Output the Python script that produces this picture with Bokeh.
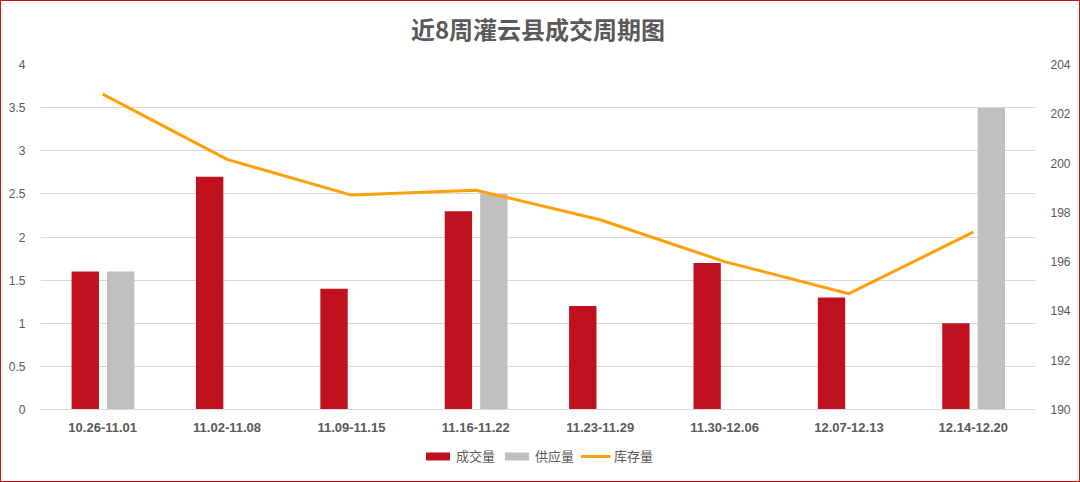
from bokeh.plotting import figure
from bokeh.layouts import column
from bokeh.models import (FactorRange, Range1d, LinearAxis, FixedTicker, CustomJSTickFormatter,
                          Legend, LegendItem, ColumnDataSource, Label)
from bokeh.transform import dodge
from bokeh.embed import file_html
from bokeh.resources import INLINE

weeks = ["10.26-11.01", "11.02-11.08", "11.09-11.15", "11.16-11.22",
         "11.23-11.29", "11.30-12.06", "12.07-12.13", "12.14-12.20"]
deals = [1.6, 2.7, 1.4, 2.3, 1.2, 1.7, 1.3, 1.0]          # 成交量
supply = [1.6, 0, 0, 2.5, 0, 0, 0, 3.5]                   # 供应量
stock = [202.8, 200.15, 198.7, 198.9, 197.7, 196.0, 194.7, 197.2]  # 库存量
left_ticks = [0, 0.5, 1, 1.5, 2, 2.5, 3, 3.5, 4]
right_ticks = [190, 192, 194, 196, 198, 200, 202, 204]
series_names = ["成交量", "供应量", "库存量"]
title_text = "近8周灌云县成交周期图"

src = ColumnDataSource(dict(week=weeks, deals=deals, supply=supply, stock=stock))

TXT = "#595959"
FONT = "Noto Sans CJK SC"
NUMFONT = "Liberation Sans"
RED, GRAY, ORANGE = "#c0111f", "#bfbfbf", "#ffa00a"
W = 1078


def strip(h):
    f = figure(width=W, height=h, x_range=Range1d(0, 1), y_range=Range1d(0, h),
               output_backend="svg", toolbar_location=None,
               min_border=0, min_border_left=0, min_border_right=0,
               min_border_top=0, min_border_bottom=0)
    f.axis.visible = False
    f.grid.visible = False
    f.outline_line_color = None
    f.border_fill_color = "white"
    f.background_fill_color = "white"
    return f


# title strip
tt = strip(48)
tt.add_layout(Label(x=0.5, y=21, text=title_text, text_align="center", text_baseline="middle",
                    text_font=FONT, text_font_size="24px", text_font_style="bold",
                    text_color=TXT))

# main chart
p = figure(width=W, height=396, x_range=FactorRange(*weeks, range_padding=0),
           y_range=Range1d(0, 4), output_backend="svg", toolbar_location=None,
           min_border_left=39, min_border_right=44, min_border_top=15, min_border_bottom=36)
p.extra_y_ranges = {"right": Range1d(190, 204)}
p.outline_line_color = None
p.background_fill_color = "white"
p.border_fill_color = "white"

p.vbar(x=dodge("week", -0.14, range=p.x_range), top="deals", width=0.22,
       source=src, color=RED, line_color=None)
p.vbar(x=dodge("week", 0.145, range=p.x_range), top="supply", width=0.22,
       source=src, color=GRAY, line_color=None)
p.line(x="week", y="stock", source=src, y_range_name="right",
       line_color=ORANGE, line_width=3)

p.xgrid.grid_line_color = None
p.ygrid.grid_line_color = "#d9d9d9"
p.ygrid.grid_line_width = 1
p.ygrid.ticker = FixedTicker(ticks=left_ticks)

fmt = CustomJSTickFormatter(code="return tick.toString();")
ax = p.yaxis[0]
ax.ticker = FixedTicker(ticks=left_ticks)
ax.formatter = fmt
ax.axis_line_color = None
ax.major_tick_line_color = None
ax.minor_tick_line_color = None
ax.major_label_text_color = TXT
ax.major_label_text_font = NUMFONT
ax.major_label_text_font_size = "12px"
ax.major_label_standoff = 9

rax = LinearAxis(y_range_name="right", ticker=FixedTicker(ticks=right_ticks), formatter=fmt)
rax.axis_line_color = None
rax.major_tick_line_color = None
rax.minor_tick_line_color = None
rax.major_label_text_color = TXT
rax.major_label_text_font = NUMFONT
rax.major_label_text_font_size = "12px"
rax.major_label_standoff = 9
p.add_layout(rax, "right")

xa = p.xaxis[0]
xa.axis_line_color = "#d9d9d9"
xa.major_tick_line_color = None
xa.minor_tick_line_color = None
xa.major_label_text_color = TXT
xa.major_label_text_font = NUMFONT
xa.major_label_text_font_size = "13px"
xa.major_label_text_font_style = "bold"
xa.major_label_standoff = 7

# legend strip (swatch renderers sit outside the strip's visible range)
lg = strip(36)
d1 = lg.vbar(x=[-10], top=[0], width=0.1, color=RED, line_color=None)
d2 = lg.vbar(x=[-10], top=[0], width=0.1, color=GRAY, line_color=None)
d3 = lg.line(x=[-10, -9], y=[0, 0], line_color=ORANGE, line_width=3)
legend = Legend(items=[LegendItem(label=series_names[0], renderers=[d1]),
                       LegendItem(label=series_names[1], renderers=[d2]),
                       LegendItem(label=series_names[2], renderers=[d3])],
                orientation="horizontal", location="top_center",
                glyph_width=30, glyph_height=10, spacing=6, label_standoff=4,
                label_text_font=FONT, label_text_font_size="13px", label_text_color=TXT,
                border_line_color=None, background_fill_alpha=0, padding=2, margin=1)
lg.add_layout(legend)

layout = column(tt, p, lg, spacing=0)
layout.styles = {"border": "1px solid #d01010", "background-color": "white"}

open("out.html", "w").write(file_html(layout, INLINE))
